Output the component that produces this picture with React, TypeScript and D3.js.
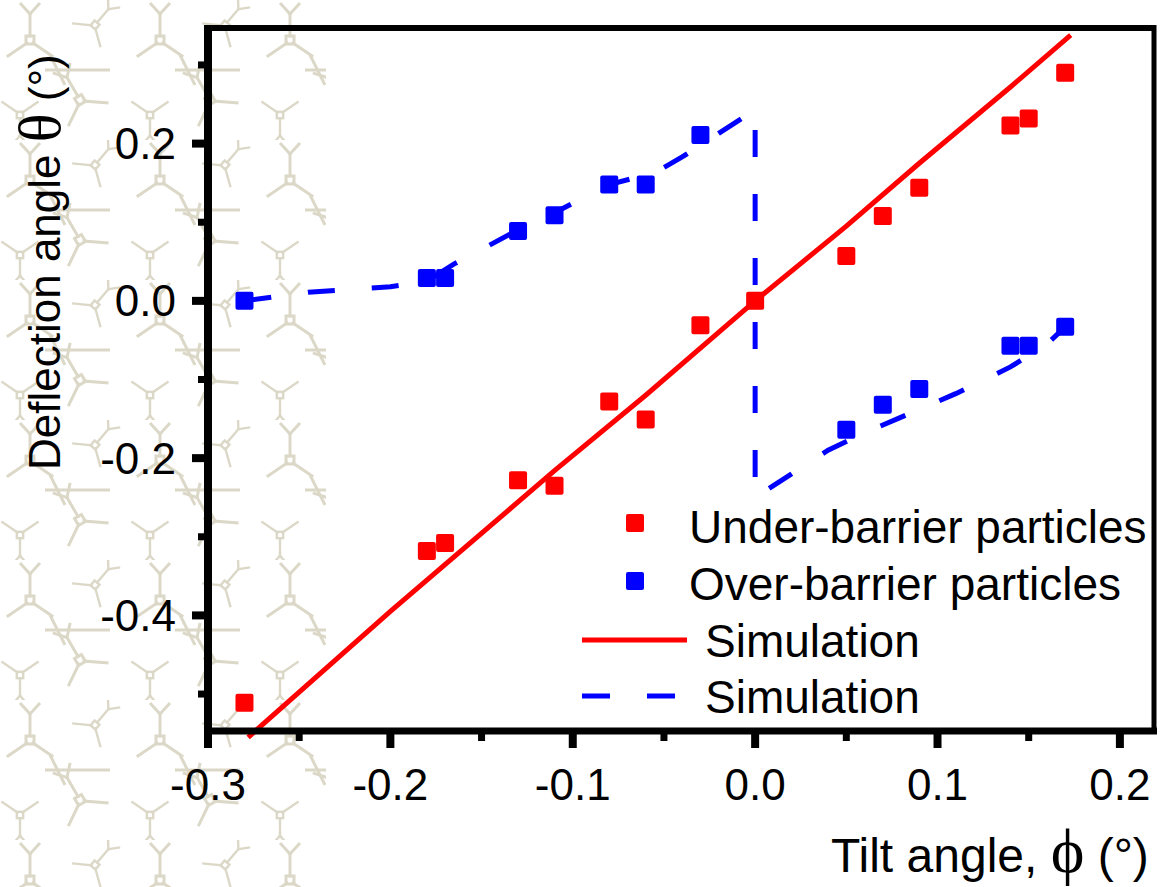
import React from "react";
import * as d3 from "d3";

// ---------- data ----------
const underX = [-0.28, -0.18, -0.17, -0.13, -0.11, -0.08, -0.06, -0.03, 0.0, 0.05, 0.07, 0.09, 0.14, 0.15, 0.17];
const underY = [-0.511, -0.318, -0.308, -0.228, -0.235, -0.128, -0.151, -0.031, 0.0, 0.057, 0.108, 0.144, 0.223, 0.232, 0.29];

const overX = [-0.28, -0.18, -0.17, -0.13, -0.11, -0.08, -0.06, -0.03, 0.05, 0.07, 0.09, 0.14, 0.15, 0.17];
const overY = [0.0, 0.029, 0.029, 0.089, 0.109, 0.148, 0.148, 0.211, -0.164, -0.132, -0.112, -0.057, -0.057, -0.033];

const simRedX = [-0.278, -0.2, -0.11, -0.06, 0.0, 0.05, 0.09, 0.14, 0.173];
const simRedY = [-0.555, -0.395, -0.216, -0.12, 0.0, 0.095, 0.175, 0.272, 0.338];

const simBlueX = [-0.28, -0.245, -0.2, -0.18, -0.165, -0.135, -0.11, -0.08, -0.055, -0.04, -0.02, 0.0, 0.0, 0.02, 0.04, 0.06, 0.09, 0.11, 0.14, 0.16, 0.17];
const simBlueY = [0.0, 0.011, 0.018, 0.025, 0.047, 0.084, 0.112, 0.148, 0.163, 0.183, 0.213, 0.243, -0.25, -0.22, -0.19, -0.168, -0.138, -0.118, -0.084, -0.055, -0.033];

const xTicks = [-0.3, -0.2, -0.1, 0.0, 0.1, 0.2];
const xTickLabels = ["-0.3", "-0.2", "-0.1", "0.0", "0.1", "0.2"];
const xMinor = [-0.25, -0.15, -0.05, 0.05, 0.15];
const yTicks = [0.2, 0.0, -0.2, -0.4];
const yTickLabels = ["0.2", "0.0", "-0.2", "-0.4"];
const yMinor = [0.3, 0.1, -0.1, -0.3, -0.5];

const legendLabels = ["Under-barrier particles", "Over-barrier particles", "Simulation", "Simulation"];

// ---------- layout ----------
const W = 1160;
const H = 887;
const L = 208, R = 1154, T = 28, B = 731;
const FONT = "'Liberation Sans', Arial, sans-serif";

const x = d3.scaleLinear().domain([-0.3, 0.2187]).range([L, R]);
const y = d3.scaleLinear().domain([-0.547, 0.347]).range([B, T]);

const line = d3.line<[number, number]>().x(d => x(d[0])).y(d => y(d[1]));

const redPts = underX.map((v, i) => [v, underY[i]] as [number, number]);
const bluePts = overX.map((v, i) => [v, overY[i]] as [number, number]);
const redSim = simRedX.map((v, i) => [v, simRedY[i]] as [number, number]);
const blueSim = simBlueX.map((v, i) => [v, simBlueY[i]] as [number, number]);

const RED = "#ff0000";
const BLUE = "#0000ff";
const BEIGE = "#dcd8c8";
const MS = 18;

function Motif({ cx, cy, rot, s = 1 }: { cx: number; cy: number; rot: number; s?: number }) {
  return (
    <g transform={`translate(${cx},${cy}) rotate(${rot}) scale(${s})`} stroke={BEIGE} strokeWidth={3} fill="none" strokeLinecap="square">
      <rect x={-4} y={-4} width={8} height={8} />
      <line x1={0} y1={-4} x2={0} y2={-26} />
      <line x1={3} y1={3} x2={22} y2={16} />
      <line x1={-3} y1={3} x2={-22} y2={16} />
      <line x1={0} y1={-26} x2={-9} y2={-36} />
      <line x1={0} y1={-26} x2={9} y2={-36} />
    </g>
  );
}

export default function App() {
  return (
    <svg width={W} height={H} style={{ position: "absolute", left: 0, top: 0, background: "#fff" }} fontFamily={FONT}>
      <defs>
        <pattern id="mol" width={130} height={140} patternUnits="userSpaceOnUse">
          <Motif cx={30} cy={40} rot={0} />
          <Motif cx={95} cy={25} rot={40} s={0.8} />
          <Motif cx={80} cy={100} rot={-30} />
          <Motif cx={20} cy={115} rot={180} s={0.8} />
          <line x1={45} y1={70} x2={110} y2={70} stroke={BEIGE} strokeWidth={3} />
          <line x1={50} y1={55} x2={65} y2={85} stroke={BEIGE} strokeWidth={3} />
        </pattern>
        <clipPath id="leftClip">
          <rect x={0} y={0} width={326} height={H} />
        </clipPath>
      </defs>
      <rect x={0} y={0} width={W} height={H} fill="#fff" />
      <rect x={0} y={0} width={326} height={H} fill="url(#mol)" clipPath="url(#leftClip)" />

      {/* simulation lines */}
      <path d={line(redSim) ?? ""} fill="none" stroke={RED} strokeWidth={5} />
      <path d={line(blueSim) ?? ""} fill="none" stroke={BLUE} strokeWidth={5} strokeDasharray="27 37" />

      {/* points */}
      {redPts.map((p, i) => (
        <rect key={"r" + i} x={x(p[0]) - MS / 2} y={y(p[1]) - MS / 2} width={MS} height={MS} rx={2} fill={RED} />
      ))}
      {bluePts.map((p, i) => (
        <rect key={"b" + i} x={x(p[0]) - MS / 2} y={y(p[1]) - MS / 2} width={MS} height={MS} rx={2} fill={BLUE} />
      ))}

      {/* frame */}
      <line x1={L - 4} y1={T} x2={R + 2} y2={T} stroke="#000" strokeWidth={6} />
      <line x1={R} y1={T - 3} x2={R} y2={B} stroke="#000" strokeWidth={5} />
      <line x1={L} y1={T - 3} x2={L} y2={B + 16} stroke="#000" strokeWidth={8} />
      <line x1={L - 4} y1={B} x2={R + 3} y2={B} stroke="#000" strokeWidth={7} />

      {/* x ticks */}
      {xTicks.map((t, i) => (
        <g key={"xt" + i}>
          <line x1={x(t)} y1={B} x2={x(t)} y2={B + 17} stroke="#000" strokeWidth={8} />
          <text x={x(t)} y={800} textAnchor="middle" fontSize={44}>{xTickLabels[i]}</text>
        </g>
      ))}
      {xMinor.map((t, i) => (
        <line key={"xm" + i} x1={x(t)} y1={B} x2={x(t)} y2={B + 10} stroke="#000" strokeWidth={7} />
      ))}

      {/* y ticks */}
      {yTicks.map((t, i) => (
        <g key={"yt" + i}>
          <line x1={L} y1={y(t)} x2={L - 16} y2={y(t)} stroke="#000" strokeWidth={8} />
          <text x={176} y={y(t) + 15.5} textAnchor="end" fontSize={44}>{yTickLabels[i]}</text>
        </g>
      ))}
      {yMinor.map((t, i) => (
        <line key={"ym" + i} x1={L} y1={y(t)} x2={L - 10} y2={y(t)} stroke="#000" strokeWidth={7} />
      ))}

      {/* axis titles */}
      <text transform="translate(60,470) rotate(-90)" fontSize={44}>
        <tspan>Deflection angle </tspan>
        <tspan fontFamily="'Liberation Serif', serif" fontSize={60}>θ</tspan>
        <tspan> (°)</tspan>
      </text>
      <text x={831} y={872} fontSize={48}>
        <tspan>Tilt angle, </tspan>
        <tspan fontFamily="'Liberation Serif', serif" fontSize={64}>ϕ</tspan>
        <tspan> (°)</tspan>
      </text>

      {/* legend */}
      <rect x={626} y={514} width={MS} height={MS} rx={2} fill={RED} />
      <text x={689} y={543} fontSize={46}>{legendLabels[0]}</text>
      <rect x={626} y={572} width={MS} height={MS} rx={2} fill={BLUE} />
      <text x={689} y={600} fontSize={46}>{legendLabels[1]}</text>
      <line x1={582} y1={640} x2={687} y2={640} stroke={RED} strokeWidth={5} />
      <text x={705} y={657} fontSize={46}>{legendLabels[2]}</text>
      <line x1={582} y1={696} x2={687} y2={696} stroke={BLUE} strokeWidth={5} strokeDasharray="28 37" />
      <text x={705} y={713} fontSize={46}>{legendLabels[3]}</text>
    </svg>
  );
}
